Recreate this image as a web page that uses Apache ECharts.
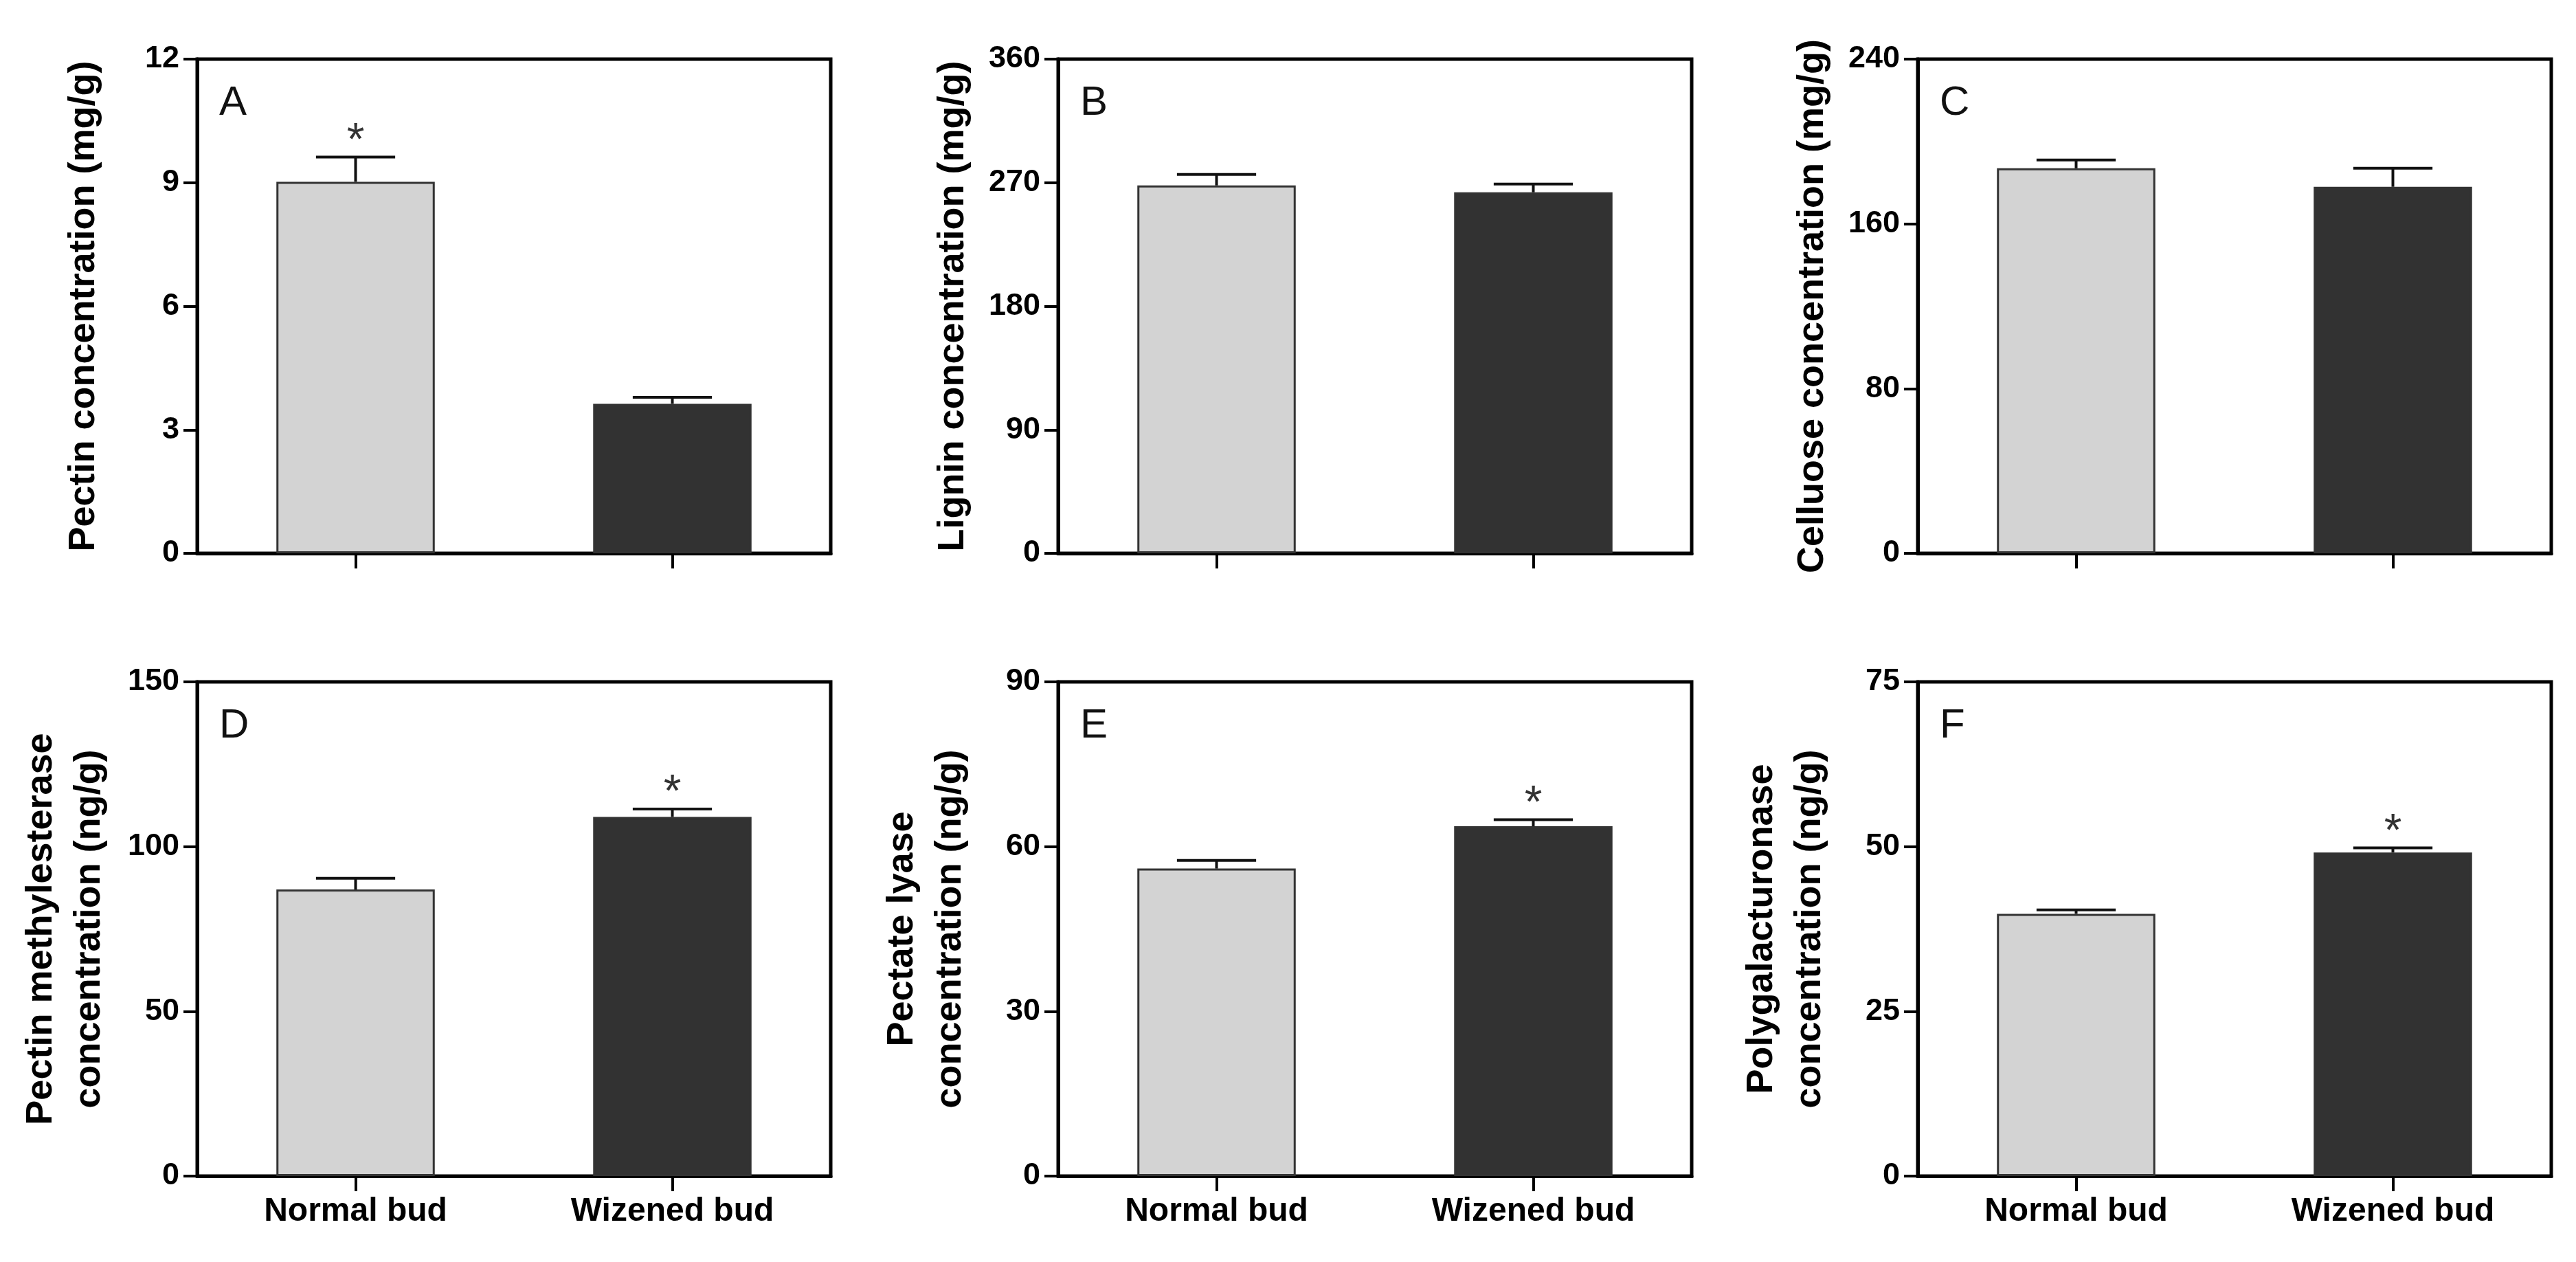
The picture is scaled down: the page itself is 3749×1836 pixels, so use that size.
<!DOCTYPE html>
<html>
<head>
<meta charset="utf-8">
<script src="https://cdn.jsdelivr.net/npm/echarts@6/dist/echarts.min.js"></script>
<style>
  html, body { margin: 0; padding: 0; background: #fff; }
  #main { width: 3749px; height: 1836px; }
</style>
</head>
<body>
<div id="main"></div>
<script>
// groups on the x axis
const categories = ['Normal bud', 'Wizened bud'];

// A - pectin
const pectinValues = [9.02, 3.63];
const pectinErrors = [0.6, 0.16];
const pectinStars = [1, 0];
// B - lignin
const ligninValues = [268, 263];
const ligninErrors = [8, 6];
const ligninStars = [0, 0];
// C - cellulose
const celluloseValues = [187, 178];
const celluloseErrors = [4, 9];
const celluloseStars = [0, 0];
// D - pectin methylesterase
const pmeValues = [87, 109];
const pmeErrors = [3.4, 2.4];
const pmeStars = [0, 1];
// E - pectate lyase
const plValues = [56, 63.7];
const plErrors = [1.5, 1.2];
const plStars = [0, 1];
// F - polygalacturonase
const pgValues = [39.8, 49.1];
const pgErrors = [0.6, 0.7];
const pgStars = [0, 1];

// y axis ranges (max, tick step)
const axisMax = [12, 360, 240, 150, 90, 75];
const axisStep = [3, 90, 80, 50, 30, 25];
const letters = ['A', 'B', 'C', 'D', 'E', 'F'];
const yNames = [
    'Pectin concentration (mg/g)',
    'Lignin concentration (mg/g)',
    'Celluose concentration (mg/g)',
    'Pectin methylesterase\nconcentration (ng/g)',
    'Pectate lyase\nconcentration (ng/g)',
    'Polygalacturonase\nconcentration (ng/g)'
];

const panels = [
    [pectinValues, pectinErrors, pectinStars],
    [ligninValues, ligninErrors, ligninStars],
    [celluloseValues, celluloseErrors, celluloseStars],
    [pmeValues, pmeErrors, pmeStars],
    [plValues, plErrors, plStars],
    [pgValues, pgErrors, pgStars]
];

const gridLefts = [287, 1540, 2791];
const gridTops = [86, 992];
const gridW = 922;
const gridH = 719;
const nameGaps = [130, 118, 118, 122, 122, 122];
const barColors = ['#d3d3d3', '#323232'];
const font = '"Liberation Sans", Arial, sans-serif';

const grids = [], xAxes = [], yAxes = [], series = [], titles = [];

panels.forEach(function (p, i) {
    const col = i % 3, row = Math.floor(i / 3);
    grids.push({
        left: gridLefts[col], top: gridTops[row], width: gridW, height: gridH,
        show: true, borderColor: '#000', borderWidth: 5, backgroundColor: 'transparent'
    });
    xAxes.push({
        type: 'category', gridIndex: i, data: categories,
        axisLine: { show: true, lineStyle: { color: '#000', width: 5 } },
        axisTick: {
            show: true, interval: 0, alignWithLabel: true, inside: false, length: 22,
            lineStyle: { color: '#000', width: 4 }
        },
        axisLabel: {
            show: row === 1, margin: 28, color: '#000',
            fontSize: 48, fontWeight: 'bold', fontFamily: font
        }
    });
    yAxes.push({
        type: 'value', gridIndex: i, min: 0, max: axisMax[i], interval: axisStep[i],
        name: yNames[i], nameLocation: 'middle', nameGap: nameGaps[i],
        nameTextStyle: { color: '#000', fontSize: 54, fontWeight: 'bold', fontFamily: font, lineHeight: 70 },
        axisLine: { show: true, lineStyle: { color: '#000', width: 5 } },
        axisTick: { show: true, length: 20, lineStyle: { color: '#000', width: 4 } },
        axisLabel: { margin: 26, color: '#000', fontSize: 45, fontWeight: 'bold', fontFamily: font },
        splitLine: { show: false }
    });
    titles.push({
        text: letters[i], left: gridLefts[col] + 32, top: gridTops[row] + 34, padding: 0,
        textStyle: { fontSize: 60, fontWeight: 'normal', color: '#111', fontFamily: font }
    });
    series.push({
        type: 'bar', xAxisIndex: i, yAxisIndex: i, barWidth: '50%',
        data: p[0].map(function (v, k) {
            return { value: v, itemStyle: { color: barColors[k] } };
        }),
        itemStyle: { borderColor: '#333', borderWidth: 3 },
        silent: true
    });
    series.push({
        type: 'custom', xAxisIndex: i, yAxisIndex: i, z: 5, clip: false, silent: true,
        data: p[0].map(function (v, k) { return [k, v, p[1][k], p[2][k]]; }),
        renderItem: function (params, api) {
            const x = api.value(0), v = api.value(1), e = api.value(2);
            const base = api.coord([x, v]);
            const top = api.coord([x, v + e]);
            const half = api.size([1, 0])[0] * 0.125;
            const style = { stroke: '#111', lineWidth: 4 };
            const children = [
                { type: 'line', shape: { x1: base[0], y1: base[1], x2: top[0], y2: top[1] }, style: style },
                { type: 'line', shape: { x1: top[0] - half, y1: top[1], x2: top[0] + half, y2: top[1] }, style: style }
            ];
            if (api.value(3)) {
                children.push({
                    type: 'text', x: top[0], y: top[1] - 22,
                    style: { text: '*', fontSize: 66, fontFamily: font, fill: '#333', align: 'center', verticalAlign: 'middle' }
                });
            }
            return { type: 'group', children: children };
        }
    });
});

const chart = echarts.init(document.getElementById('main'));
chart.setOption({
    animation: false,
    backgroundColor: '#fff',
    title: titles,
    grid: grids,
    xAxis: xAxes,
    yAxis: yAxes,
    series: series
});
</script>
</body>
</html>
